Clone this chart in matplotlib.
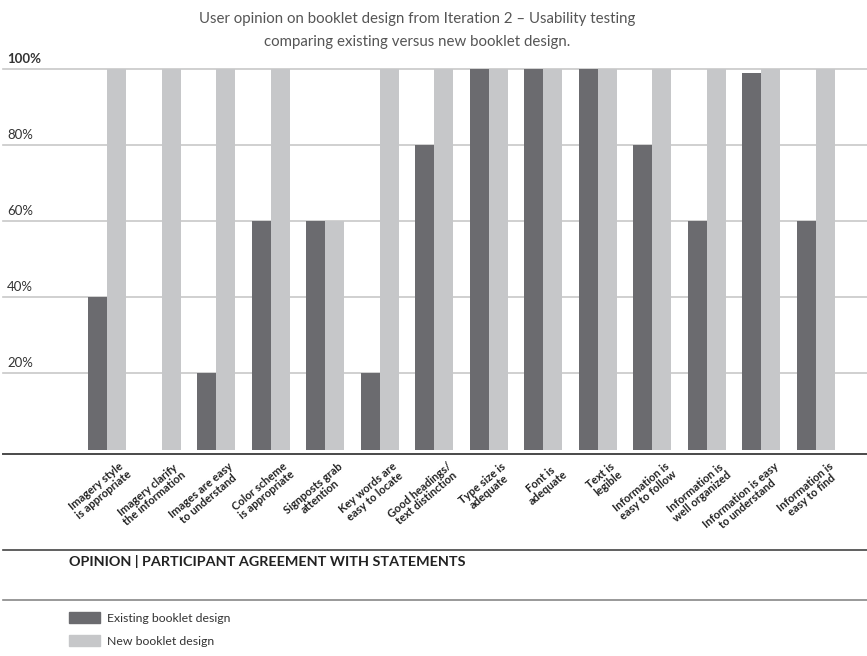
import matplotlib.pyplot as plt
from matplotlib.lines import Line2D
from matplotlib.patches import Patch

# ============================================================
# DATA
# ============================================================

statements = [
    "Imagery style\nis appropriate",
    "Imagery clarify\nthe information",
    "Images are easy\nto understand",
    "Color scheme\nis appropriate",
    "Signposts grab\nattention",
    "Key words are\neasy to locate",
    "Good headings/\ntext distinction",
    "Type size is\nadequate",
    "Font is\nadequate",
    "Text is\nlegible",
    "Information is\neasy to follow",
    "Information is\nwell organized",
    "Information is easy\nto understand",
    "Information is\neasy to find",
]
existing = [40, 0, 20, 60, 60, 20, 80, 100, 100, 100, 80, 60, 99, 60]
new = [100, 100, 100, 100, 60, 100, 100, 100, 100, 100, 100, 100, 100, 100]
yticks = [20, 40, 60, 80, 100]
series_names = ["Existing booklet design", "New booklet design"]
title = ("User opinion on booklet design from Iteration 2 \u2013 Usability testing\n"
         "comparing existing versus new booklet design.")
section = "OPINION | PARTICIPANT AGREEMENT WITH STATEMENTS"

# ============================================================
# STYLE
# ============================================================

DARK = "#6b6b6f"
LIGHT = "#c6c7c9"
GRID = "#c8c8c8"
W, H = 867, 656

plt.rcParams["font.family"] = ["Lato", "DejaVu Sans"]

fig = plt.figure(figsize=(W / 100, H / 100), dpi=100)

# axes placed in pixel coordinates
ax_left, ax_right, ax_top, ax_bottom = 3, 867, 69.3, 453.5
ax = fig.add_axes([ax_left / W, 1 - ax_bottom / H,
                   (ax_right - ax_left) / W, (ax_bottom - ax_top) / H])

x = list(range(len(statements)))
bw = 0.348
ax.bar([i - bw / 2 for i in x], existing, width=bw, color=DARK, zorder=2)
ax.bar([i + bw / 2 for i in x], new, width=bw, color=LIGHT, zorder=2)

ax.set_xlim(-1.907, 13.935)
ax.set_ylim(-1.05, 100)

for v in yticks:
    ax.axhline(v, color=GRID, lw=1.2, zorder=0, clip_on=False)
    ax.annotate(f"{v}%", xy=(0.005, v), xycoords=("axes fraction", "data"),
                xytext=(0, 3), textcoords="offset points", va="bottom", ha="left",
                fontsize=9.5, color="#333333",
                fontweight="bold" if v == 100 else "normal")

for s in ["top", "right", "left"]:
    ax.spines[s].set_visible(False)
ax.spines["bottom"].set_color("#4a4a4a")
ax.spines["bottom"].set_linewidth(1.4)
ax.set_xticks([])
ax.set_yticks([])

for i, lab in enumerate(statements):
    ax.annotate(lab, xy=(i + 0.22, 0), xycoords=("data", "axes fraction"),
                xytext=(0, -5), textcoords="offset points",
                rotation=40, rotation_mode="anchor", ha="right", va="top",
                multialignment="center", fontsize=8, fontweight="bold",
                color="#222222", linespacing=1.0)

fig.text(417 / W, 1 - 30.5 / H, title, ha="center", va="center",
         fontsize=10.8, color="#555555", linespacing=1.9)

for y, c in [(550, "#444444"), (600, "#888888")]:
    fig.add_artist(Line2D([3 / W, 1], [1 - y / H, 1 - y / H],
                          transform=fig.transFigure, color=c, lw=1.2))

fig.text(69 / W, 1 - 561 / H, section, ha="left", va="center",
         fontsize=10.4, fontweight="bold", color="#222222")

handles = [Patch(color=DARK), Patch(color=LIGHT)]
fig.legend(handles, series_names, loc="upper left",
           bbox_to_anchor=(69 / W, 1 - 612 / H), frameon=False,
           fontsize=8.8, handlelength=2.5, handleheight=1.0,
           handletextpad=0.6, labelspacing=0.95, borderpad=0,
           borderaxespad=0, labelcolor="#333333")

fig.savefig("out.png", dpi=100)
